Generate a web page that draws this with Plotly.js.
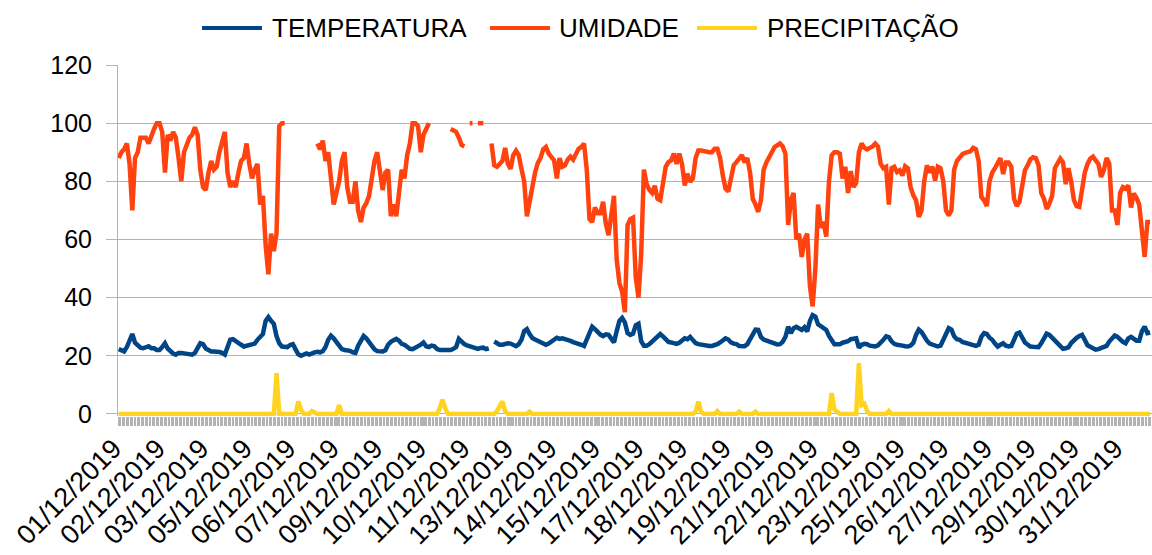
<!DOCTYPE html>
<html>
<head>
<meta charset="utf-8">
<script src="https://cdn.plot.ly/plotly-3.0.1.min.js"></script>
<style>
  html, body { margin: 0; padding: 0; background: #fff; }
  #chart { width: 1152px; height: 555px; }
</style>
</head>
<body>
<div id="chart"></div>
<script>
// Hourly rows (category axis), every 2 rows.
const STEP_ROWS = 2;

const temperatura = [
  22.3, 21.8, 21.5, 23, 25.5, 27.5, 24.5, 23.4, 22.8, 22.6, 22.8, 23.3,
  22.6, 22.6, 22, 22, 23, 24.3, 22.5, 21.5, 20.8, 20.4, 21, 21, 20.9,
  20.8, 20.6, 20.4, 21, 23, 24.3, 24, 22.5, 22, 21.5, 21.5, 21.5,
  21.3, 21, 20.4, 23, 25.5, 25.7, 25.2, 24.5, 23.8, 23.2, 23.4, 23.6,
  23.8, 24.2, 25.5, 26.6, 27.5, 32, 33.3, 32, 31, 26.8, 24.3, 23.2,
  23.2, 23, 23.7, 24, 22.2, 20.5, 20, 20.5, 20.8, 20.4, 21, 21.2, 21.4,
  21.2, 21.6, 23, 25.5, 26.9, 26, 24.8, 23.5, 22.3, 22, 22, 21.7,
  21.2, 21, 23.5, 25.5, 26.8, 26, 24.5, 23.2, 22.2, 21.6, 21.5, 21.5,
  21.9, 23.8, 24.8, 25.3, 25.8, 25.2, 24.1, 23.8, 23, 22.4, 22.3, 22.7,
  23.2, 23.8, 24.6, 23.3, 23, 23.5, 23.3, 22.3, 22, 22, 22, 22, 22,
  22.4, 23, 25.8, 24.8, 24, 23.6, 23.2, 23, 22.7, 22.4, 22.7, 22.8,
  22.3, 22.6, null, 24.9, 24.3, 23.8, 23.8, 24.2, 24.3, 24.2, 23.8, 23.3,
  24, 25.5, 28.5, 29.2, 27.5, 26.1, 25.6, 25.2, 24.8, 24.2, 23.8, 24.2,
  24.8, 25.8, 26.2, 25.8, 26, 25.7, 25.5, 25.1, 24.7, 24.5, 24.3, 23.8, 23.4,
  25.5, 28, 30, 29.2, 28.1, 27.3, 26.8, 27.4, 27.2, 25.6, 24.6, 28.5,
  32, 33, 31.5, 27.8, 27.2, 27.6, 30.5, 31, 25, 23.5, 23.5, 24,
  24.8, 25.7, 26.5, 27.5, 26.7, 25.5, 24.8, 24.6, 24.3, 24.1, 24.5, 25.5,
  26, 25.7, 26.5, 25.4, 24.4, 24, 23.8, 23.8, 23.6, 23.4, 23.4, 23.6, 24,
  24.6, 25.5, 26, 25.6, 24.6, 24.2, 24, 23.4, 23.2, 23.3, 24, 25.5,
  27.5, 29, 28.9, 26.5, 25.6, 25.2, 24.8, 24.6, 24.1, 23.9, 24, 24.8,
  26.5, 30, 27.8, 29.5, 30, 29.5, 28.9, 29.8, 28.4, 32, 34, 33.5,
  30.8, 30.2, 29.6, 28.9, 26.8, 25, 24, 24, 24, 24.5, 24.7, 25, 25.7,
  26, 26, 22.8, 23.8, 24.1, 24, 23.5, 23.3, 23.2, 23.6, 24.4, 25.5,
  26.7, 26.4, 25, 24.1, 23.8, 23.8, 23.5, 23.3, 23.2, 23.5, 24.5, 27.2,
  29, 28.2, 26.5, 25.2, 24.2, 23.8, 23.4, 23.2, 23.5, 25.5, 27.5, 29.5,
  29, 26.7, 25.7, 25.5, 24.8, 24.5, 24.3, 24.2, 23.8, 23.4, 23.8, 26.5, 27.8,
  27.5, 26.2, 25.5, 24.2, 23.2, 23.8, 24.3, 23.5, 23.2, 23.4, 25.5, 27.6,
  28, 26.5, 24.6, 23.9, 23.2, 23.1, 23.2, 23, 24.3, 25.7, 27.6, 27.2,
  26.2, 25.2, 24.3, 23.5, 22.4, 22.6, 22.9, 24.4, 25.5, 26.2, 26.8, 27.2,
  25.5, 23.6, 23.1, 22.4, 22.1, 22.3, 22.6, 23.2, 23.4, 24.9, 26.2, 27, 26.5,
  25.5, 24.8, 24.3, 26, 26.5, 26, 25.2, 25.2, 28.5, 30, 27.8, 28
];

const umidade = [
  88, 90, 91, 93, 86, 70, 88, 90, 95, 95, 95, 93,
  96, 98, 100, 100, 97, 83, 96, 94, 97, 95, 88, 80, 90,
  93, 95, 96, 98.6, 96, 84, 78, 77, 83, 87, 84, 85,
  90, 93, 97, 83, 78, 80, 78, 83, 87, 88, 93, 86,
  81, 84, 86, 72, 75, 58, 48, 62, 56, 62, 99, 100,
  100, null, null, null, null, null, null, null, null, null, null, null, 93,
  91, 94, 87, 90, 79, 72, 76, 80, 87, 90, 78, 73,
  73, 80, 70, 66, 71, 72.5, 75, 82, 87, 90, 84, 77,
  83, 84, 68, 72, 68, 78, 84, 81, 89, 93, 100, 100,
  99, 90, 96, 98, 100, null, null, null, null, null, null, null, 98,
  97.5, 97, 95, 92.5, 92, null, 100, 100, null, 100, 100, 100,
  null, null, 93, 85.5, 85, 86, 87, 91.5, 86, 84.3, 89, 90.5,
  89, 84.3, 80, 68, 73.5, 78, 83, 86.3, 88, 91, 91.8, 89.5,
  88, 87.2, 81, 88, 85, 85.5, 87.5, 88.5, 87.5, 89, 91.2, 91.8, 93,
  84, 67, 66, 71, 69, 69, 73, 65.5, 61.5, 70, 75, 53,
  45, 42, 35, 65, 67, 67.5, 47, 40, 55, 84, 79, 77,
  76, 78.5, 74, 73.5, 79, 85, 86.6, 87.2, 89.5, 86, 89.5, 86,
  78.6, 82.6, 79.8, 81, 88, 90.6, 90.6, 90.3, 90, 90, 90, 91.2, 91.2,
  88, 82, 77.5, 76.5, 82, 85.5, 86.6, 88, 89, 86.5, 88, 83,
  74, 72, 69.5, 73.5, 84, 86.5, 88, 90, 91.8, 92.3, 93, 92,
  89.5, 65, 73.5, 76, 60, 62, 54, 60, 62, 44, 37, 50,
  72, 64, 66, 61, 80, 89, 90, 90, 89.5, 81, 85, 76, 83.5,
  78, 79.5, 90, 93, 91.5, 91, 91.5, 92, 93, 92, 86, 84.5,
  85, 72, 84.5, 85, 83.2, 83.8, 82, 85.2, 84.5, 78, 75.2, 73.5,
  67.8, 70, 80, 85.5, 83, 85, 80.3, 85, 84.5, 80, 70, 68.3,
  70, 84, 87, 88.5, 89.3, 89.8, 90, 90.3, 91.5, 91, 87, 74.6, 73.5,
  71.5, 80, 83, 84.5, 86, 88, 82.5, 86.5, 86.5, 85, 74, 71.5,
  73, 79, 83.8, 85.5, 87.5, 88.3, 88, 85.5, 76, 74, 70.5, 72.3,
  75, 84.5, 86.5, 87.8, 86.5, 79, 84.5, 80, 73.5, 71.5, 71.2, 77,
  83, 86, 87.8, 88.5, 87.2, 86, 81.5, 83.8, 88, 86, 70, 70, 65,
  76, 78, 77.5, 78.6, 71, 75.8, 74.3, 72, 64.3, 54, 66, 66
];

const precipitacao = [
  0, 0, 0, 0, 0, 0, 0, 0, 0, 0, 0, 0,
  0, 0, 0, 0, 0, 0, 0, 0, 0, 0, 0, 0, 0,
  0, 0, 0, 0, 0, 0, 0, 0, 0, 0, 0, 0,
  0, 0, 0, 0, 0, 0, 0, 0, 0, 0, 0, 0,
  0, 0, 0, 0, 0, 0, 0, 0, 0, 14, 0, 0,
  0, 0, 0, 0, 0, 4.3, 1.5, 0, 0, 0, 1, 0.5, 0,
  0, 0, 0, 0, 0, 0, 0, 3, 0, 0, 0, 0,
  0, 0, 0, 0, 0, 0, 0, 0, 0, 0, 0, 0,
  0, 0, 0, 0, 0, 0, 0, 0, 0, 0, 0, 0,
  0, 0, 0, 0, 0, 0, 0, 0, 2, 4.9, 2, 0, 0,
  0, 0, 0, 0, 0, 0, 0, 0, 0, 0, 0, 0,
  0, 0, 0, 0, 1, 2.5, 4.3, 1, 0, 0, 0, 0,
  0, 0, 0, 0, 0.8, 0, 0, 0, 0, 0, 0, 0,
  0, 0, 0, 0, 0, 0, 0, 0, 0, 0, 0, 0, 0,
  0, 0, 0, 0, 0, 0, 0, 0, 0, 0, 0, 0,
  0, 0, 0, 0, 0, 0, 0, 0, 0, 0, 0, 0,
  0, 0, 0, 0, 0, 0, 0, 0, 0, 0, 0, 0,
  0, 0, 0, 0, 0.8, 4.3, 0.8, 0, 0, 0, 0, 0, 1,
  0, 0, 0, 0, 0, 0, 0, 0.8, 0, 0, 0, 0,
  0, 0.8, 0, 0, 0, 0, 0, 0, 0, 0, 0, 0,
  0, 0, 0, 0, 0, 0, 0, 0, 0, 0, 0, 0,
  0, 0, 0, 0, 0, 7.2, 1.5, 0.8, 0, 0, 0, 0, 0,
  0, 0, 17.5, 3, 3.5, 1, 0, 0, 0, 0, 0, 0,
  0, 1, 0, 0, 0, 0, 0, 0, 0, 0, 0, 0,
  0, 0, 0, 0, 0, 0, 0, 0, 0, 0, 0, 0,
  0, 0, 0, 0, 0, 0, 0, 0, 0, 0, 0, 0, 0,
  0, 0, 0, 0, 0, 0, 0, 0, 0, 0, 0, 0,
  0, 0, 0, 0, 0, 0, 0, 0, 0, 0, 0, 0,
  0, 0, 0, 0, 0, 0, 0, 0, 0, 0, 0, 0,
  0, 0, 0, 0, 0, 0, 0, 0, 0, 0, 0, 0, 0,
  0, 0, 0, 0, 0, 0, 0, 0, 0, 0, 0, 0
];

// Category labels shown on the axis: one every 32 rows.
const LABEL_EVERY_ROWS = 32;
const VISIBLE_ROWS = 759.9;
const rotulos = [
  "01/12/2019", "02/12/2019", "03/12/2019", "05/12/2019", "06/12/2019", "07/12/2019",
  "09/12/2019", "10/12/2019", "11/12/2019", "13/12/2019", "14/12/2019", "15/12/2019",
  "17/12/2019", "18/12/2019", "19/12/2019", "21/12/2019", "22/12/2019", "23/12/2019",
  "25/12/2019", "26/12/2019", "27/12/2019", "29/12/2019", "30/12/2019", "31/12/2019"
];

const seriesNames = ["TEMPERATURA", "UMIDADE", "PRECIPITAÇÃO"];
const seriesColors = ["#004586", "#ff420e", "#ffd320"];

const rows = umidade.map((_, i) => i * STEP_ROWS);
const tickPositions = rotulos.map((_, i) => i * LABEL_EVERY_ROWS);

const values = [temperatura, umidade, precipitacao];
const traces = values.map((ys, s) => ({
  type: "scatter",
  mode: "lines",
  name: seriesNames[s],
  x: rows,
  y: ys,
  connectgaps: false,
  showlegend: false,
  line: { color: seriesColors[s], width: 4.5, shape: "linear" },
  hoverinfo: "x+y"
}));

const FONT = "'Liberation Sans', Arial, sans-serif";

// Plot-area geometry (pixels)
const M = { l: 118, r: 0, t: 65, b: 139 };
const W = 1152 - M.l - M.r;
const H = 555 - M.t - M.b;
const px2x = px => (px - M.l) / W;
const py2y = py => (H + M.t - py) / H;

// Legend drawn as line samples + text, laid out like the original
const legendY = 28;
const legendItems = [
  { line: [202, 262], text: 271 },
  { line: [490, 550], text: 558 },
  { line: [697, 757], text: 766 }
];
const shapes = legendItems.map((it, s) => ({
  type: "line", xref: "paper", yref: "paper",
  x0: px2x(it.line[0]), x1: px2x(it.line[1]),
  y0: py2y(legendY), y1: py2y(legendY),
  line: { color: seriesColors[s], width: 4 }
}));
const annotations = legendItems.map((it, s) => ({
  xref: "paper", yref: "paper",
  x: px2x(it.text), y: py2y(legendY),
  xanchor: "left", yanchor: "middle",
  text: seriesNames[s], showarrow: false,
  font: { family: FONT, size: 26, color: "#000000" },
  borderpad: 0
}));

const layout = {
  width: 1152,
  height: 555,
  margin: { l: M.l, r: M.r, t: M.t, b: M.b, pad: 0 },
  paper_bgcolor: "#ffffff",
  plot_bgcolor: "#ffffff",
  font: { family: FONT, size: 26, color: "#000000" },
  showlegend: false,
  shapes: shapes,
  annotations: annotations,
  xaxis: {
    range: [-0.5, VISIBLE_ROWS - 0.5],
    tickmode: "array",
    tickvals: tickPositions,
    ticktext: rotulos,
    tickangle: -45,
    ticks: "outside",
    ticklen: 9,
    tickwidth: 1,
    tickcolor: "#b3b3b3",
    tickfont: { family: FONT, size: 27, color: "#000000" },
    ticklabeloverflow: "allow",
    ticklabelshift: -5,
    ticklabelstandoff: -4,
    showgrid: false,
    zeroline: false,
    showline: false,
    automargin: false,
    minor: {
      tickmode: "linear",
      tick0: -0.5,
      dtick: 1,
      ticks: "outside",
      ticklen: 9,
      tickwidth: 1,
      tickcolor: "#b3b3b3",
      showgrid: false
    }
  },
  yaxis: {
    range: [-0.7, 120],
    tickmode: "linear",
    tick0: 0,
    dtick: 20,
    ticks: "outside",
    ticklen: 11,
    tickwidth: 1,
    tickcolor: "#b3b3b3",
    tickfont: { family: FONT, size: 25, color: "#000000" },
    ticklabelstandoff: 9,
    showgrid: true,
    gridcolor: "#b3b3b3",
    gridwidth: 1,
    zeroline: false,
    showline: true,
    linecolor: "#b3b3b3",
    linewidth: 1,
    automargin: false
  }
};

Plotly.newPlot("chart", traces, layout, { displayModeBar: false, staticPlot: true });
</script>
</body>
</html>
